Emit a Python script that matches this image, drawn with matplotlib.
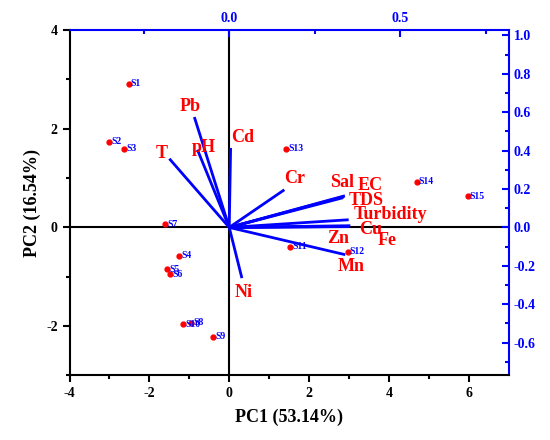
import numpy as np
import matplotlib.pyplot as plt

plt.rcParams["font.family"] = ["Liberation Serif", "DejaVu Serif"]
plt.rcParams["font.weight"] = "bold"
plt.rcParams["axes.unicode_minus"] = False

# PCA scores (PC1, PC2) of the sampling sites
sites = ["S1", "S2", "S3", "S4", "S5", "S6", "S7", "S8", "S9", "S10",
         "S11", "S12", "S13", "S14", "S15"]
pc1 = [-2.52, -3.00, -2.63, -1.25, -1.56, -1.48, -1.60, -0.96, -0.41, -1.16,
       1.53, 2.97, 1.43, 4.69, 5.97]
pc2 = [2.91, 1.74, 1.59, -0.57, -0.85, -0.95, 0.06, -1.93, -2.22, -1.96,
       -0.39, -0.49, 1.59, 0.93, 0.63]

# variable loadings
variables = ["Pb", "pH", "T", "Cd", "Cr", "Sal", "EC", "TDS", "Turbidity",
             "Cu", "Fe", "Zn", "Mn", "Ni"]
load1 = [-0.102, -0.093, -0.175, 0.004, 0.161, 0.336, 0.338, 0.333, 0.349,
         0.354, 0.350, 0.330, 0.339, 0.037]
load2 = [0.575, 0.405, 0.358, 0.414, 0.196, 0.161, 0.165, 0.155, 0.040,
         0.009, 0.004, 0.005, -0.142, -0.264]

# label offsets from arrow tips (pixels, x right / y up)
label_offset = {
    "Pb": (-4, 11), "pH": (6, 2), "T": (-8, 5), "Cd": (12, 10),
    "Cr": (10, 11), "Sal": (-2, 14), "EC": (25, 10), "TDS": (23, -3),
    "Turbidity": (42, 5), "Cu": (20, -4), "Fe": (38, -14), "Zn": (-4, -12),
    "Mn": (6, -12), "Ni": (2, -14),
}

fig = plt.figure(figsize=(5.5, 4.4), dpi=100)
pos = [0.1264, 0.1466, 0.7986, 0.7852]
ax = fig.add_axes(pos)

ax.set_xlim(-4, 7)
ax.set_ylim(-3, 4)
ax.axhline(0, color="black", lw=1.5, zorder=1)
ax.axvline(0, color="black", lw=1.5, zorder=1)

ax.plot(pc1, pc2, "o", color="red", ms=3.5, zorder=3)
for name, x, y in zip(sites, pc1, pc2):
    ax.annotate(name, (x, y), xytext=(1.5, 0), textcoords="offset points",
                color="blue", fontsize=7, va="center", ha="left")

ax.set_xticks([-4, -2, 0, 2, 4, 6])
ax.set_xticks([-3, -1, 1, 3, 5], minor=True)
ax.set_yticks([-2, 0, 2, 4])
ax.set_yticks([-3, -1, 1, 3], minor=True)
ax.tick_params(which="both", direction="out", width=1.5, labelsize=10)
ax.tick_params(which="major", length=5)
ax.tick_params(which="minor", length=3)
ax.set_xlabel("PC1 (53.14%)", fontsize=13, fontweight="bold", labelpad=6)
ax.set_ylabel("PC2 (16.54%)", fontsize=13, fontweight="bold", labelpad=4)

for s in ["left", "bottom"]:
    ax.spines[s].set_linewidth(1.5)
    ax.spines[s].set_color("black")
for s in ["top", "right"]:
    ax.spines[s].set_linewidth(1.5)
    ax.spines[s].set_color("blue")

# loadings axes (top / right)
ax2 = fig.add_axes(pos, frameon=False)
ax2.set_xlim(-4 / 8.57, 7 / 8.57)
ax2.set_ylim(-3 / 3.89, 4 / 3.89)
ax2.xaxis.tick_top()
ax2.yaxis.tick_right()
ax2.set_xticks([0.0, 0.5])
ax2.set_xticks([-0.25, 0.25, 0.75], minor=True)
ax2.set_xticklabels(["0.0", "0.5"])
ax2.set_yticks(np.round(np.arange(-0.6, 1.01, 0.2), 1))
ax2.set_yticks(np.round(np.arange(-0.7, 1.01, 0.2), 1), minor=True)
ax2.yaxis.set_major_formatter(plt.FormatStrFormatter("%.1f"))
ax2.tick_params(which="both", direction="in", width=1.5, colors="blue",
                labelsize=10)
ax2.tick_params(which="major", length=5)
ax2.tick_params(which="minor", length=3)

for name, lx, ly in zip(variables, load1, load2):
    ax2.plot([0, lx], [0, ly], color="blue", lw=2, solid_capstyle="butt",
             zorder=2)
    dx, dy = label_offset[name]
    ax2.annotate(name, (lx, ly), xytext=(dx * 0.72, dy * 0.72),
                 textcoords="offset points", color="red", fontsize=13,
                 fontweight="bold", ha="center", va="center")

fig.savefig("out.png", dpi=100)
